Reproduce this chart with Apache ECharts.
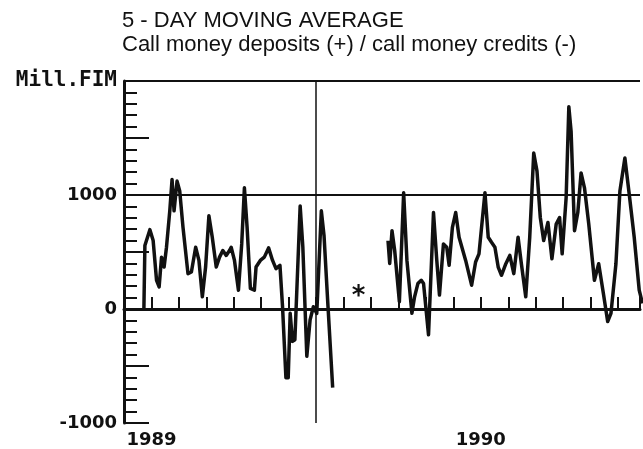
<!DOCTYPE html>
<html>
<head>
<meta charset="utf-8">
<title>5-day moving average</title>
<script src="https://cdn.jsdelivr.net/npm/echarts@6/dist/echarts.min.js"></script>
<style>
  html, body { margin: 0; padding: 0; background: #fff; }
  #main { width: 643px; height: 449px; }
</style>
</head>
<body>
<div id="main"></div>
<script>
// x = months counted from 1 Dec 1988 (1 = Jan 1989, 13 = Jan 1990)
var months1 = [0.725, 0.761, 0.943, 1.062, 1.186, 1.280, 1.367, 1.461, 1.548, 1.668,
    1.751, 1.824, 1.933, 2.030, 2.150, 2.331, 2.455, 2.611, 2.730, 2.854,
    2.973, 3.093, 3.216, 3.361, 3.481, 3.600, 3.724, 3.843, 3.905, 4.025,
    4.170, 4.289, 4.387, 4.485, 4.605, 4.750, 4.811, 4.967, 5.112, 5.268,
    5.413, 5.537, 5.682, 5.776, 5.899, 5.983, 6.055, 6.139, 6.226, 6.418,
    6.516, 6.661, 6.780, 6.900, 7.023, 7.190, 7.288, 7.433, 7.603];
var values1 = [0, 557, 696, 600, 252, 194, 455, 368, 542, 861,
    1136, 861, 1122, 1035, 716, 310, 325, 542, 426, 107,
    368, 817, 629, 368, 455, 513, 470, 513, 542, 426,
    165, 571, 1063, 716, 180, 165, 368, 426, 455, 536,
    426, 354, 383, 20, -603, -603, -38, -284, -270, 904,
    542, -415, -96, 20, -38, 861, 643, 20, -690];

var months2 = [9.619, 9.681, 9.765, 9.862, 10.033, 10.189, 10.308, 10.490, 10.587, 10.707,
    10.830, 10.914, 11.095, 11.276, 11.396, 11.494, 11.639, 11.759, 11.846, 11.965,
    12.085, 12.208, 12.448, 12.665, 12.810, 12.933, 13.151, 13.271, 13.390, 13.514,
    13.633, 13.753, 13.912, 14.057, 14.202, 14.358, 14.478, 14.637, 14.782, 14.928,
    15.047, 15.167, 15.290, 15.446, 15.591, 15.747, 15.870, 15.964, 16.109, 16.207,
    16.290, 16.414, 16.534, 16.653, 16.777, 16.933, 17.139, 17.295, 17.466, 17.622,
    17.742, 17.923, 18.068, 18.249, 18.408, 18.589, 18.771, 18.890];
var values2 = [600, 400, 687, 513, 64, 1020, 426, -38, 107, 223,
    252, 223, -226, 846, 426, 122, 571, 542, 383, 716,
    846, 629, 426, 209, 412, 484, 1020, 629, 585, 542,
    368, 296, 397, 470, 310, 629, 397, 107, 629, 1368,
    1209, 803, 600, 759, 441, 745, 803, 484, 977, 1774,
    1557, 687, 846, 1194, 1063, 745, 252, 397, 136, -110,
    -38, 397, 1035, 1325, 1006, 629, 165, 50];

var yearLabels = { 1: '1989', 13: '1990' };
var refLinesY = [0, 1000, 2000];
var markerMonth = 7;   // vertical line, July 1989
var starPoint = [8.55, 104];

var ink = '#111';
var numFont = { fontFamily: 'DejaVu Sans', fontSize: 18, fontWeight: 'bold', color: ink };

var data = [];
for (var i = 0; i < months1.length; i++) data.push([months1[i], values1[i]]);
data.push([8.5, null]);
for (var j = 0; j < months2.length; j++) data.push([months2[j], values2[j]]);

var lines = [];
for (var k = 0; k < refLinesY.length; k++) lines.push({ yAxis: refLinesY[k] });
lines.push({ xAxis: markerMonth, lineStyle: { width: 1.5 } });

var myChart = echarts.init(document.getElementById('main'));
myChart.setOption({
    backgroundColor: '#fff',
    animation: false,
    title: {
        text: '5 - DAY MOVING AVERAGE',
        subtext: 'Call money deposits (+) / call money credits (-)',
        left: 122,
        top: 10,
        itemGap: 2,
        padding: 0,
        textStyle: { fontFamily: 'Liberation Sans', fontSize: 22, fontWeight: 'normal', color: ink, lineHeight: 22 },
        subtextStyle: { fontFamily: 'Liberation Sans', fontSize: 22, color: ink, lineHeight: 22 }
    },
    grid: { left: 124, right: 0, top: 81, bottom: 25 },
    xAxis: {
        type: 'value',
        min: 0,
        max: 18.8,
        interval: 1,
        axisLine: { show: true, lineStyle: { color: ink, width: 3 } },
        axisTick: { show: true, inside: true, length: 12, lineStyle: { color: ink, width: 2 } },
        splitLine: { show: false },
        axisLabel: {
            margin: 8,
            fontFamily: numFont.fontFamily, fontSize: numFont.fontSize,
            fontWeight: numFont.fontWeight, color: ink,
            showMinLabel: true, showMaxLabel: true,
            formatter: function (v) { return yearLabels[v] || ''; }
        }
    },
    yAxis: {
        type: 'value',
        min: -1000,
        max: 2000,
        interval: 500,
        axisLine: { show: true, lineStyle: { color: ink, width: 3 } },
        axisTick: { show: true, inside: true, length: 25, lineStyle: { color: ink, width: 2 } },
        minorTick: { show: true, splitNumber: 5, length: 13, lineStyle: { color: ink, width: 2 } },
        splitLine: { show: false },
        axisLabel: {
            margin: 7,
            fontFamily: numFont.fontFamily, fontSize: numFont.fontSize,
            fontWeight: numFont.fontWeight, color: ink,
            formatter: function (v) {
                if (v === 2000) return '{u|Mill.FIM}';
                if (v % 1000 === 0) return String(v);
                return '';
            },
            rich: {
                u: { fontFamily: 'DejaVu Sans Mono', fontSize: 21, fontWeight: 'bold', color: ink }
            }
        }
    },
    series: [{
        type: 'line',
        data: data,
        showSymbol: false,
        connectNulls: false,
        clip: true,
        lineStyle: { color: ink, width: 3.5, join: 'round' },
        markLine: {
            silent: true,
            symbol: 'none',
            label: { show: false },
            lineStyle: { color: ink, width: 2, type: 'solid' },
            data: lines
        },
        markPoint: {
            silent: true,
            symbol: 'circle',
            symbolSize: 0,
            label: { show: true, position: 'inside', formatter: '*', fontFamily: 'DejaVu Sans', fontSize: 26, fontWeight: 'bold', color: ink },
            data: [{ coord: starPoint }]
        }
    }]
});
</script>
</body>
</html>
